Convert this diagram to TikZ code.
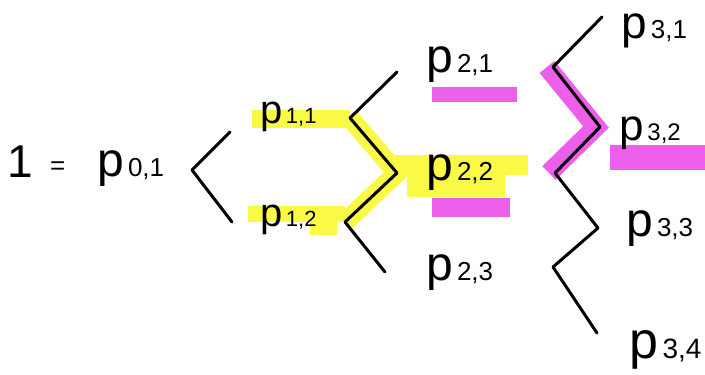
\documentclass[tikz,border=0pt]{standalone}
\usepackage{fontspec}
\setmainfont{Liberation Sans}
\newcommand{\plbl}[3]{{\fontsize{#1}{#1}\selectfont p}{\fontsize{#2}{#2}\selectfont\,#3}}
\tikzset{
  ink/.style={draw=black, line width=3pt, line cap=round, line join=round},
  hl/.style={line width=19pt, line join=miter},
  lbl/.style={anchor=base west, inner sep=0pt, outer sep=0pt},
}
\definecolor{hlyellow}{RGB}{250,250,70}
\definecolor{hlmagenta}{RGB}{235,95,235}
\begin{document}
\begin{tikzpicture}[x=1pt, y=-1pt]
\useasboundingbox (0,0) rectangle (705,375);
\fill[white] (0,0) rectangle (705,375);

% bracket corner points
\coordinate (a0) at (230,132);
\coordinate (v0) at (192,170);
\coordinate (b0) at (232,222);
\coordinate (t2) at (397,72);
\coordinate (v21) at (350,118);
\coordinate (m2) at (397,173);
\coordinate (v22) at (345,222);
\coordinate (b2) at (385,272);
\coordinate (t3) at (602,17);
\coordinate (v31) at (553,67);
\coordinate (m3) at (600,127);
\coordinate (v32) at (555,173);
\coordinate (m33) at (598,228);
\coordinate (v33) at (553,267);
\coordinate (b3) at (597,333);

% yellow highlighter
\fill[hlyellow] (252,110) rectangle (350,128);
\fill[hlyellow] (248,206) rectangle (345,222);
\fill[hlyellow] (310,213) rectangle (337,235);
\fill[hlyellow] (395,155) rectangle (528,175);
\fill[hlyellow] (407,175) rectangle (505,197);
\draw[hl, draw=hlyellow] (v21) -- (m2) -- (v22);

% magenta highlighter
\fill[hlmagenta] (432,87) rectangle (517,102);
\fill[hlmagenta] (432,198) rectangle (510,217);
\fill[hlmagenta] (610,145) rectangle (705,170);
\draw[hl, draw=hlmagenta] ([xshift=-6pt]v31) -- ([xshift=-4pt]m3) -- ([xshift=-6pt]v32);

% labels
\node[lbl] (one) at (8,177) {\fontsize{46}{46}\selectfont 1};
\node[lbl] (eq) at (50,174) {\fontsize{26}{26}\selectfont =};
\node[lbl] (p01) at (97,176) {\plbl{48}{26}{0,1}};
\node[lbl] (p11) at (260,123) {\plbl{40}{22}{1,1}};
\node[lbl] (p12) at (260,226) {\plbl{40}{22}{1,2}};
\node[lbl] (p21) at (426,72) {\plbl{48}{26}{2,1}};
\node[lbl] (p22) at (426,180) {\plbl{48}{26}{2,2}};
\node[lbl] (p23) at (426,280) {\plbl{48}{26}{2,3}};
\node[lbl] (p31) at (621,38) {\plbl{46}{26}{3,1}};
\node[lbl] (p32) at (619,140) {\plbl{44}{24}{3,2}};
\node[lbl] (p33) at (626,236) {\plbl{48}{26}{3,3}};
\node[lbl] (p34) at (629,358) {\plbl{52}{28}{3,4}};

% brackets
\draw[ink] (a0) -- (v0) -- (b0);
\draw[ink] (t2) -- (v21) -- (m2) -- (v22) -- (b2);
\draw[ink] (t3) -- (v31) -- (m3) -- (v32) -- (m33) -- (v33) -- (b3);
\end{tikzpicture}
\end{document}
